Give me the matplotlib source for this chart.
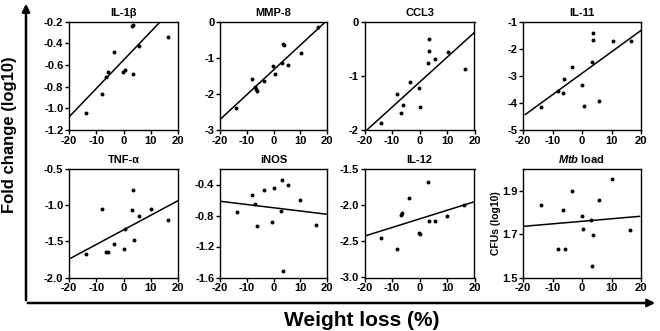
import numpy as np
import matplotlib.pyplot as plt
from matplotlib.patches import FancyArrowPatch

plt.rcParams['font.family'] = ['Liberation Sans', 'DejaVu Sans']
plt.rcParams['font.weight'] = 'bold'
plt.rcParams['axes.unicode_minus'] = False
plt.rcParams['mathtext.fontset'] = 'custom'
plt.rcParams['mathtext.bfit'] = 'Liberation Sans:italic:bold'
plt.rcParams['mathtext.rm'] = 'Liberation Sans:bold'

# weight loss (%) vs fold change per marker
il1b_x = [-13.7, -7.9, -6.3, -5.8, -3.5, -0.2, 0.4, 3.0, 3.6, 3.4, 5.6, 16.2]
il1b_y = [-1.04, -0.87, -0.71, -0.67, -0.48, -0.67, -0.65, -0.24, -0.23, -0.68, -0.43, -0.34]

mmp8_x = [-14.1, -8.1, -6.9, -6.4, -6.0, -3.7, -0.2, 0.4, 3.0, 3.5, 3.8, 5.6, 10.2, 16.5]
mmp8_y = [-2.39, -1.59, -1.82, -1.87, -1.92, -1.65, -1.24, -1.45, -1.15, -0.63, -0.65, -1.2, -0.88, -0.15]

ccl3_x = [-14.1, -8.2, -6.6, -6.0, -3.6, -0.2, 0.3, 3.0, 3.3, 3.6, 5.6, 10.3, 16.5]
ccl3_y = [-1.87, -1.33, -1.69, -1.54, -1.12, -1.23, -1.57, -0.77, -0.32, -0.54, -0.69, -0.555, -0.88]

il11_x = [-14.0, -8.1, -6.6, -6.0, -3.5, 0.0, 0.6, 3.3, 3.6, 3.8, 5.8, 10.4, 16.6]
il11_y = [-4.17, -3.55, -3.62, -3.11, -2.66, -3.33, -4.13, -2.49, -1.41, -1.70, -3.93, -1.73, -1.73]

tnf_x = [-13.6, -7.8, -6.5, -5.8, -3.4, 0.1, 0.6, 3.3, 3.5, 3.8, 5.7, 10.2, 16.3]
tnf_y = [-1.67, -1.05, -1.65, -1.65, -1.53, -1.60, -1.33, -1.06, -0.79, -1.48, -1.15, -1.05, -1.20]

inos_x = [-13.8, -8.0, -6.8, -6.0, -3.7, -0.4, 0.1, 2.9, 3.2, 3.5, 5.5, 9.9, 16.0]
inos_y = [-0.75, -0.54, -0.65, -0.93, -0.47, -0.88, -0.44, -0.74, -0.34, -1.51, -0.41, -0.60, -0.92]

il12_x = [-14.0, -8.1, -6.8, -6.2, -3.7, -0.3, 0.3, 3.0, 3.5, 5.5, 10.1, 16.3]
il12_y = [-2.45, -2.60, -2.13, -2.11, -1.90, -2.38, -2.40, -1.68, -2.22, -2.22, -2.155, -2.0]

mtb_x = [-13.9, -8.1, -6.6, -5.9, -3.5, -0.1, 0.5, 3.2, 3.6, 3.4, 5.7, 10.1, 16.4]
mtb_y = [1.833, 1.633, 1.81, 1.633, 1.90, 1.785, 1.722, 1.765, 1.695, 1.555, 1.855, 1.955, 1.72]

# regression lines as drawn: slope, intercept, x start, x end
fit_slope = [0.0262, 0.0685, 0.046, 0.079, 0.0202, -0.0042, 0.0119, 0.00117]
fit_icpt = [-0.556, -1.34, -1.12, -2.91, -1.342, -0.70, -2.19, 1.759]
fit_x0 = [-20, -20, -20, -19.2, -20, -20, -20, -20]
fit_x1 = [20, 20, 20, 20, 20, 20, 20, 19.5]

titles = ['IL-1β', 'MMP-8', 'CCL3', 'IL-11', 'TNF-α', 'iNOS', 'IL-12', r'$\mathbfit{Mtb}$ load']
ylims = [(-1.2, -0.2), (-3, 0), (-2, 0), (-5, -1), (-2.0, -0.5), (-1.6, -0.2), (-3.0, -1.5), (1.5, 2.0)]
yticks = [[-1.2, -1.0, -0.8, -0.6, -0.4, -0.2], [-3, -2, -1, 0], [-2, -1, 0], [-5, -4, -3, -2, -1],
          [-2.0, -1.5, -1.0, -0.5], [-1.6, -1.2, -0.8, -0.4], [-3.0, -2.5, -2.0, -1.5], [1.5, 1.7, 1.9]]
yfmt = ['%.1f', '%d', '%d', '%d', '%.1f', '%.1f', '%.1f', '%.1f']
xs = [il1b_x, mmp8_x, ccl3_x, il11_x, tnf_x, inos_x, il12_x, mtb_x]
ys = [il1b_y, mmp8_y, ccl3_y, il11_y, tnf_y, inos_y, il12_y, mtb_y]

W, H = 660, 331
fig = plt.figure(figsize=(W / 100, H / 100), dpi=100)

def px_axes(l, t, r, b):
    return fig.add_axes([l / W, 1 - b / H, (r - l) / W, (b - t) / H])

cols = [(69, 178), (220, 327), (364.5, 474.5), (523, 641)]
rows = [(21.5, 130), (169, 277.5)]

for i in range(8):
    l, r = cols[i % 4]
    t, b = rows[i // 4]
    ax = px_axes(l, t, r, b)
    ax.scatter(xs[i], ys[i], s=8, color='black', zorder=3, linewidths=0)
    lx = np.array([fit_x0[i], fit_x1[i]])
    ax.plot(lx, fit_slope[i] * lx + fit_icpt[i], color='black', lw=1.1)
    ax.set_xlim(-20, 20)
    ax.set_ylim(*ylims[i])
    ax.set_xticks([-20, -10, 0, 10, 20])
    ax.set_yticks(yticks[i])
    ax.set_yticklabels([yfmt[i] % v for v in yticks[i]])
    ax.tick_params(labelsize=8, length=3, width=1, pad=1)
    for sp in ax.spines.values():
        sp.set_linewidth(1)
    ax.set_title(titles[i], fontsize=8, fontweight='bold', pad=4)
    if i == 7:
        ax.set_ylabel('CFUs (log10)', fontsize=7.5, fontweight='bold', labelpad=1)

# big axis arrows around the grid
def fx(x):
    return x / W

def fy(y):
    return 1 - y / H

fig.add_artist(FancyArrowPatch((fx(26), fy(303)), (fx(26), fy(1)), transform=fig.transFigure,
                               arrowstyle='-|>', mutation_scale=11, lw=1.8, color='black'))
fig.add_artist(FancyArrowPatch((fx(25), fy(303)), (fx(658), fy(303)), transform=fig.transFigure,
                               arrowstyle='-|>', mutation_scale=11, lw=1.8, color='black'))

fig.text(fx(10), fy(135), 'Fold change (log10)', rotation=90, ha='center', va='center',
         fontsize=12, fontweight='bold')
fig.text(fx(362), fy(320), 'Weight loss (%)', ha='center', va='center',
         fontsize=15, fontweight='bold')

fig.savefig('out.png', dpi=100)
